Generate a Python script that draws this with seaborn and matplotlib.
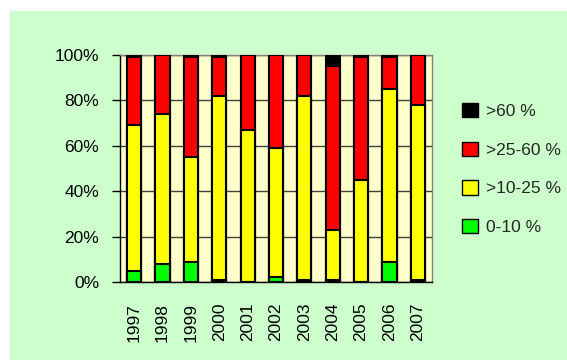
import matplotlib
matplotlib.use("Agg")
import matplotlib.pyplot as plt
import matplotlib.patches as mpatches
from matplotlib.ticker import FixedLocator
import numpy as np
import pandas as pd
import seaborn as sns

years = ["1997", "1998", "1999", "2000", "2001", "2002",
         "2003", "2004", "2005", "2006", "2007"]
share_0_10 = [5, 8, 9, 1, 0, 2, 1, 1, 0, 9, 1]
share_10_25 = [64, 66, 46, 81, 67, 57, 81, 22, 45, 76, 77]
share_25_60 = [30, 26, 44, 17, 33, 41, 18, 72, 54, 14, 22]
share_60 = [1, 0, 1, 1, 0, 0, 0, 5, 1, 1, 0]

labels = [">60 %", ">25-60 %", ">10-25 %", "0-10 %"]
colors = ["#000000", "#FF0000", "#FFFF00", "#00FF00"]

sns.set_theme(style="white")
plt.rcParams["font.family"] = ["Liberation Sans", "DejaVu Sans"]

df = pd.DataFrame({
    "year": years,
    "g": share_0_10,
    "y": share_10_25,
    "r": share_25_60,
    "b": share_60,
})
# cumulative tops, drawn tallest first so each layer overlays the one below
df["top_g"] = df["g"]
df["top_y"] = df["top_g"] + df["y"]
df["top_r"] = df["top_y"] + df["r"]
df["top_b"] = df["top_r"] + df["b"]

fig = plt.figure(figsize=(5.67, 3.6), dpi=100)
fig.patch.set_facecolor("white")
fig.add_artist(mpatches.Rectangle((10 / 567, 0), 1 - 10 / 567, 1 - 11 / 360,
                                  transform=fig.transFigure,
                                  facecolor="#CCFFCC", edgecolor="none", zorder=0))

ax = fig.add_axes([120 / 567, 1 - 282 / 360, 312 / 567, 227 / 360])
ax.set_facecolor("#FFFFCC")

for col, c in zip(["top_b", "top_r", "top_y", "top_g"], colors):
    sns.barplot(data=df, x="year", y=col, color=c, saturation=1, width=0.5,
                edgecolor="black", linewidth=1.5, ax=ax, zorder=3)

ax.set_xlim(-0.5, len(years) - 0.5)
ax.set_ylim(0, 100)
ax.set_xlabel("")
ax.set_ylabel("")

ax.set_yticks(np.arange(0, 101, 20))
ax.set_yticklabels([f"{v}%" for v in range(0, 101, 20)], fontsize=12.5)
ax.yaxis.grid(True, color="#404040", linewidth=1)
ax.set_axisbelow(True)

ax.set_xticks(range(len(years)))
ax.set_xticklabels(years, rotation=90, fontsize=12.5)
ax.xaxis.set_minor_locator(FixedLocator(np.arange(-0.5, len(years), 1.0)))
ax.tick_params(axis="x", which="major", length=0, pad=15)
ax.tick_params(axis="x", which="minor", length=6, width=1, color="black", direction="out")
ax.tick_params(axis="y", which="major", length=6, width=1, color="black", direction="out",
               left=True, pad=9)
for lab in ax.get_xticklabels() + ax.get_yticklabels():
    lab.set_color("black")

ax.spines["left"].set_color("black")
ax.spines["bottom"].set_color("black")
ax.spines["top"].set_color("#808080")
ax.spines["right"].set_color("#808080")
for s in ax.spines.values():
    s.set_linewidth(1)

handles = [mpatches.Patch(facecolor=c, edgecolor="black", linewidth=1) for c in colors]
fig.legend(handles, labels, loc="center left", bbox_to_anchor=(462 / 567, 1 - 169 / 360),
           frameon=False, fontsize=12.5, borderpad=0, borderaxespad=0,
           handlelength=0.9, handleheight=0.9, handletextpad=0.5, labelspacing=1.3)

fig.savefig("out.png", dpi=100, facecolor=fig.get_facecolor())
